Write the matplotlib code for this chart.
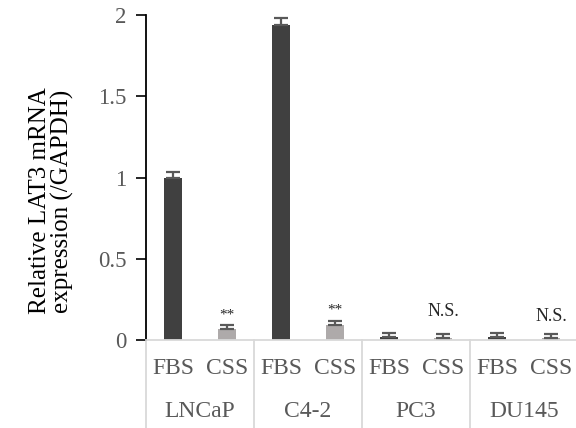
import numpy as np
import matplotlib.pyplot as plt
from matplotlib import transforms

plt.rcParams['font.family'] = ['Liberation Serif', 'DejaVu Serif']

cells = ["LNCaP", "C4-2", "PC3", "DU145"]
conditions = ["FBS", "CSS"]
fbs_mean = [1.0, 1.94, 0.02, 0.02]
fbs_err = [0.035, 0.04, 0.025, 0.025]
css_mean = [0.065, 0.095, 0.015, 0.015]
css_err = [0.03, 0.022, 0.02, 0.02]
marks = ["**", "**", "N.S.", "N.S."]
mark_gap = [0.02, 0.03, 0.085, 0.055]

fig = plt.figure(figsize=(5.76, 4.28), dpi=100)
ax = fig.add_axes([146 / 576, 1 - 340 / 428, 432 / 576, 325 / 428])

x = np.arange(len(cells)) * 2
w = 0.32
ax.bar(x + 0.5, fbs_mean, w, color="#404040", zorder=2)
ax.bar(x + 1.5, css_mean, w, color="#aeaaaa", zorder=2)
ax.errorbar(x + 0.5, fbs_mean, yerr=[np.zeros(4), fbs_err], fmt="none",
            ecolor="#595959", elinewidth=1.6, capsize=5, capthick=1.6, zorder=3)
ax.errorbar(x + 1.5, css_mean, yerr=[np.zeros(4), css_err], fmt="none",
            ecolor="#595959", elinewidth=1.6, capsize=5, capthick=1.6, zorder=3)

# significance marks above CSS bars
for xi, m, e, t, g in zip(x + 1.5, css_mean, css_err, marks, mark_gap):
    fs = 11 if t == "**" else 13
    ax.text(xi, m + e + g, t, ha="center", va="bottom", fontsize=fs, color="#262626")

ax.set_xlim(0, 8)
ax.set_ylim(0, 2)
ax.set_yticks([0, 0.5, 1, 1.5, 2])
ax.set_yticklabels(["0", "0.5", "1", "1.5", "2"])
ax.tick_params(axis="y", labelsize=16.5, labelcolor="#595959", length=7, width=1.2, pad=7)
ax.set_xticks([])
for s in ["top", "right"]:
    ax.spines[s].set_visible(False)
ax.spines["left"].set_linewidth(1.3)
ax.spines["bottom"].set_color("#d9d9d9")
ax.spines["bottom"].set_linewidth(1.3)

ax.set_ylabel("Relative LAT3 mRNA\nexpression (/GAPDH)", fontsize=18, linespacing=1.0)
ax.yaxis.set_label_coords(-0.166, 0.428)

# category axis labels drawn below
trans = transforms.blended_transform_factory(ax.transData, ax.transAxes)
for g in range(len(cells)):
    for k, c in enumerate(conditions):
        ax.text(x[g] + 0.5 + k, -0.087, c, transform=trans, ha="center", va="center",
                fontsize=17, color="#595959")
    ax.text(x[g] + 1, -0.22, cells[g], transform=trans, ha="center", va="center",
            fontsize=17, color="#595959")
for b in list(x) + [8]:
    ax.plot([b, b], [0, -0.27], transform=trans, color="#d9d9d9", lw=1.3, clip_on=False)

fig.savefig("out.png", dpi=100)
